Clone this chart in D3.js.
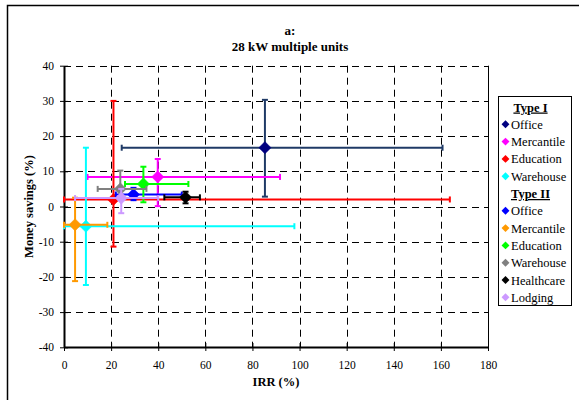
<!DOCTYPE html>
<html>
<head>
<meta charset="utf-8">
<script src="https://cdn.jsdelivr.net/npm/d3@7"></script>
<style>
  body { margin: 0; background: #fff; }
  svg text { font-family: "Liberation Serif", "Times New Roman", serif !important; }
</style>
</head>
<body>
<div id="chart"></div>
<script>
var width = 579,
    height = 400;

// series, in drawing order
var groups = ['Type I', 'Type I', 'Type I', 'Type I',
              'Type II', 'Type II', 'Type II', 'Type II', 'Type II', 'Type II'];
var names = ['Office', 'Mercantile', 'Education', 'Warehouse',
             'Office', 'Mercantile', 'Education', 'Warehouse', 'Healthcare', 'Lodging'];
var irr =     [85.3, 39.8, 21.0, 9.3, 29.5, 4.7, 33.7, 23.9, 51.6, 24.3];
var savings = [16.7, 8.4, 2.0, -5.6, 3.4, -5.2, 6.4, 5.0, 2.6, 2.4];
var irrLow =  [24.5, 10.0, 0, 0, 22.0, 0, 25.9, 14.3, 42.6, 4.7];
var irrHigh = [160.7, 91.7, 163.8, 97.8, 50.0, 18.4, 52.8, 35.0, 57.7, 40.0];
var savLow =  [2.8, 0.1, -11.4, -22.3, 1.8, -21.2, 1.2, 2.0, 0.9, -1.9];
var savHigh = [30.3, 13.5, 30.0, 16.7, 5.3, 2.5, 11.3, 10.2, 4.2, 5.0];

var markerColors = ['#000080', '#ff00ff', '#ff0000', '#00ffff',
                    '#0000ff', '#ff9900', '#00ff00', '#808080', '#000000', '#cc99ff'];
var barColors =    ['#1f3a66', '#ff00ff', '#ff0000', '#00ffff',
                    '#0000ff', '#ff9900', '#00ff00', '#808080', '#000000', '#cc99ff'];

var xTicks = d3.range(0, 181, 20);
var yTicks = d3.range(-40, 41, 10);

var series = names.map(function(n, i){
  return { group: groups[i], name: n, x: irr[i], y: savings[i],
           x0: irrLow[i], x1: irrHigh[i], y0: savLow[i], y1: savHigh[i],
           color: markerColors[i], bar: barColors[i] };
});

var plot = { left: 64, right: 488, top: 65.7, bottom: 347.3 };

var x = d3.scaleLinear().domain([0, 180]).range([plot.left, plot.right]);
var y = d3.scaleLinear().domain([-40, 40]).range([plot.bottom, plot.top]);

var svg = d3.select('#chart').append('svg')
  .attr('width', width)
  .attr('height', height);

svg.append('rect').attr('width', width).attr('height', height).attr('fill', '#fff');

// outer chart frame (cut by the picture on right/bottom)
svg.append('rect')
  .attr('x', 7.5).attr('y', 5.5)
  .attr('width', 600).attr('height', 420)
  .attr('fill', 'none').attr('stroke', '#000').attr('stroke-width', 1.5);

// title
svg.append('text').attr('x', 290).attr('y', 35)
  .attr('text-anchor', 'middle').attr('font-weight', 'bold').attr('font-size', 13)
  .text('a:');
svg.append('text').attr('x', 290).attr('y', 50.5)
  .attr('text-anchor', 'middle').attr('font-weight', 'bold').attr('font-size', 13)
  .text('28 kW multiple units');

// gridlines
var grid = svg.append('g').attr('stroke', '#000').attr('stroke-width', 1)
  .attr('stroke-dasharray', '7,5');
grid.selectAll('.hg').data(yTicks.filter(function(d){ return d > -40; }))
  .enter().append('line')
  .attr('x1', plot.left).attr('x2', plot.right)
  .attr('y1', function(d){ return Math.round(y(d)) + 0.5; })
  .attr('y2', function(d){ return Math.round(y(d)) + 0.5; });
grid.selectAll('.vg').data(xTicks.filter(function(d){ return d > 0 && d < 180; }))
  .enter().append('line')
  .attr('y1', plot.top).attr('y2', plot.bottom)
  .attr('x1', function(d){ return Math.round(x(d)) + 0.5; })
  .attr('x2', function(d){ return Math.round(x(d)) + 0.5; });

// right border of plot area
svg.append('line')
  .attr('x1', Math.round(x(180)) + 0.5).attr('x2', Math.round(x(180)) + 0.5)
  .attr('y1', plot.top).attr('y2', plot.bottom)
  .attr('stroke', '#000').attr('stroke-width', 1);

// axes
var xAxis = d3.axisBottom(x).tickValues(xTicks).tickSizeInner(4).tickSizeOuter(0).tickPadding(10);
var yAxis = d3.axisLeft(y).tickValues(yTicks).tickSizeInner(4).tickSizeOuter(0).tickPadding(6)
  .tickFormat(function(d){ return d < 0 ? '-' + Math.abs(d) : d; });

var gx = svg.append('g').attr('transform', 'translate(0,' + Math.round(y(-40)) + ')').call(xAxis);
var gy = svg.append('g').attr('transform', 'translate(' + Math.round(x(0)) + ',0)').call(yAxis);

[gx, gy].forEach(function(g){
  g.attr('font-family', null);
  g.select('.domain').attr('stroke', '#000').attr('stroke-width', 2);
  g.selectAll('.tick text').attr('font-size', 11.5).attr('fill', '#000');
});
// ticks cross the axis line
gx.selectAll('.tick line').attr('y1', -4).attr('y2', 4);
gy.selectAll('.tick line').attr('x1', -4).attr('x2', 4);

// axis titles
svg.append('text').attr('x', x(90)).attr('y', 386)
  .attr('text-anchor', 'middle').attr('font-size', 12.5).attr('font-weight', 'bold')
  .text('IRR (%)');
svg.append('text')
  .attr('transform', 'translate(33,' + y(0) + ') rotate(-90)')
  .attr('text-anchor', 'middle').attr('font-size', 12.5).attr('font-weight', 'bold')
  .text('Money savings (%)');

// error bars + markers
var cap = 3;
var marks = svg.append('g');
series.forEach(function(s){
  var g = marks.append('g').attr('stroke', s.bar).attr('stroke-width', 2).attr('fill', 'none');
  g.append('line').attr('x1', x(s.x0)).attr('x2', x(s.x1)).attr('y1', y(s.y)).attr('y2', y(s.y));
  g.append('line').attr('x1', x(s.x)).attr('x2', x(s.x)).attr('y1', y(s.y0)).attr('y2', y(s.y1));
  [s.x0, s.x1].forEach(function(v){
    g.append('line').attr('x1', x(v)).attr('x2', x(v)).attr('y1', y(s.y) - cap).attr('y2', y(s.y) + cap);
  });
  [s.y0, s.y1].forEach(function(v){
    g.append('line').attr('x1', x(s.x) - cap).attr('x2', x(s.x) + cap).attr('y1', y(v)).attr('y2', y(v));
  });
  marks.append('path')
    .attr('d', d3.symbol().type(d3.symbolDiamond2).size(95)())
    .attr('transform', 'translate(' + x(s.x) + ',' + y(s.y) + ')')
    .attr('fill', s.color).attr('stroke', s.color).attr('stroke-width', 0.5);
});

// legend
var legend = svg.append('g').attr('transform', 'translate(498.5,96.5)');
legend.append('rect').attr('width', 73).attr('height', 209)
  .attr('fill', '#fff').attr('stroke', '#000').attr('stroke-width', 1);

var rows = [];
var lastGroup = null;
series.forEach(function(s){
  if (s.group !== lastGroup) { rows.push({ header: s.group }); lastGroup = s.group; }
  rows.push(s);
});
var rowH = 17.3;
rows.forEach(function(r, i){
  var cy = 10.5 + i * rowH;
  if (r.header) {
    legend.append('text').attr('x', 32).attr('y', cy + 4.5)
      .attr('text-anchor', 'middle').attr('font-size', 12.5).attr('font-weight', 'bold')
      .attr('text-decoration', 'underline')
      .text(r.header);
  } else {
    legend.append('path')
      .attr('d', d3.symbol().type(d3.symbolDiamond2).size(40)())
      .attr('transform', 'translate(7,' + cy + ')')
      .attr('fill', r.color);
    legend.append('text').attr('x', 12.5).attr('y', cy + 4.5)
      .attr('font-size', 12.5).text(r.name);
  }
});
</script>
</body>
</html>
